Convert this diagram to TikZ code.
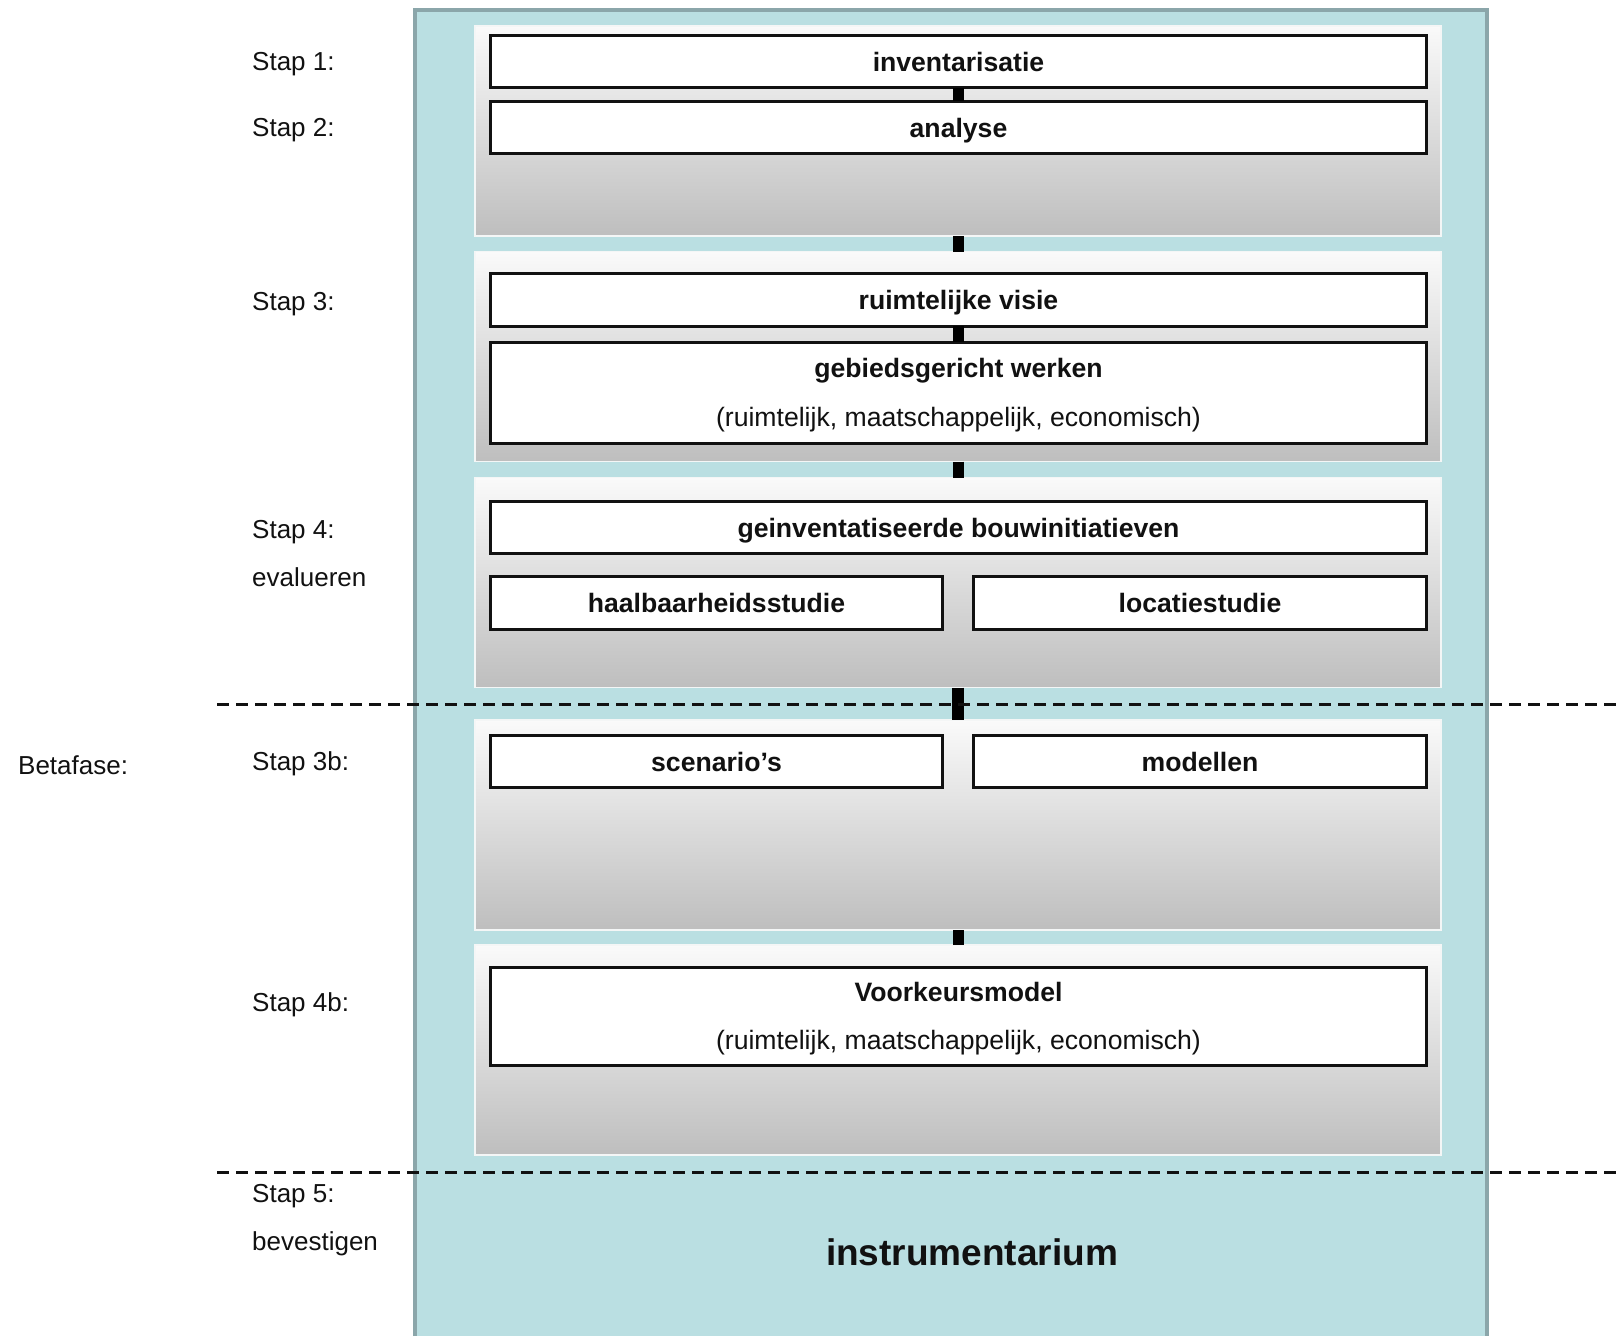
\documentclass[tikz,border=0pt]{standalone}
\usepackage{fontspec}
\setmainfont{Liberation Sans}
\definecolor{tealbg}{HTML}{BADFE2}
\definecolor{rim}{HTML}{8BA6AA}
\definecolor{panelTop}{HTML}{FAFAFA}
\definecolor{panelBot}{HTML}{BEBEBE}
\definecolor{panelEdge}{HTML}{F4F6F6}
\definecolor{ink}{HTML}{111111}
\begin{document}
\begin{tikzpicture}[x=1pt,y=-1pt,
  every node/.style={font=\fontsize{26}{31}\selectfont, text=ink},
  panel/.style={top color=panelTop, bottom color=panelBot, draw=panelEdge,
    line width=1.5pt, minimum width=966pt, minimum height=210pt,
    inner sep=0pt, outer sep=0pt},
  box/.style={draw=ink, fill=white, line width=2.6pt, inner sep=0pt, outer sep=0pt,
    font=\fontsize{26.6}{31}\selectfont\bfseries},
  onebox/.style={box, minimum height=52.5pt, text height=19pt, text depth=0pt},
  wide/.style={onebox, minimum width=936.5pt},
  half/.style={onebox, minimum width=452.5pt},
  tallbox/.style={box, minimum width=936.5pt},
  boxtext/.style={align=center, inner sep=0pt, font=\fontsize{26.6}{31}\selectfont},
  link/.style={draw=black, line width=11pt},
  phase/.style={draw=ink, line width=3pt, dash pattern=on 12pt off 7pt},
  steplabel/.style={anchor=base west, inner sep=0pt}
]
\useasboundingbox (0,0) rectangle (1622,1336);

% outer column
\fill[tealbg] (415,10) rectangle (1487,1336);
\draw[rim, line width=4pt, line join=miter] (415,1336) -- (415,10) -- (1487,10) -- (1487,1336);

% shaded step panels
\node[panel] (p1) at (958,131) {};
\node[panel] (p2) at (958,356.5) {};
\node[panel] (p3) at (958,582.5) {};
\node[panel] (p4) at (958,825) {};
\node[panel] (p5) at (958,1050) {};

% step boxes
\node[wide] (b1) at (958.5,61.5) {inventarisatie};
\node[wide] (b2) at (958.5,127.5) {analyse};
\node[wide] (b3) at (958.5,300) {ruimtelijke visie};
\node[tallbox, minimum height=101.5pt] (b4) at (958.5,393) {};
\node[boxtext] (t4) at ([yshift=-2.5pt]b4.center)
  {\textbf{gebiedsgericht werken}\\[18pt](ruimtelijk, maatschappelijk, economisch)};
\node[wide] (b5) at (958.5,527.5) {geinventatiseerde bouwinitiatieven};
\node[half] (b6) at (716.5,603) {haalbaarheidsstudie};
\node[half] (b7) at (1200,603) {locatiestudie};
\node[half] (b8) at (716.5,761.5) {scenario’s};
\node[half] (b9) at (1200,761.5) {modellen};
\node[tallbox, minimum height=98.5pt] (b10) at (958.5,1016.5) {};
\node[boxtext] (t10) at ([yshift=-2.5pt]b10.center)
  {\textbf{Voorkeursmodel}\\[17pt](ruimtelijk, maatschappelijk, economisch)};

% connectors
\draw[link] (b1.south) -- (b2.north);
\draw[link] (p1.south) -- (p2.north);
\draw[link] (b3.south) -- (b4.north);
\draw[link] (p2.south) -- (p3.north);
\draw[link, line width=12pt] (p3.south) -- (p4.north);
\draw[link] (p4.south) -- (p5.north);

% phase boundaries
\draw[phase] (217,704) -- (1622,704);
\draw[phase] (217,1172) -- (1622,1172);

% result
\node[font=\fontsize{37}{44}\selectfont\bfseries, anchor=base] (res) at (972,1265) {instrumentarium};

% step labels
\node[steplabel] (s1) at (252,70) {Stap 1:};
\node[steplabel] (s2) at (252,136) {Stap 2:};
\node[steplabel] (s3) at (252,310) {Stap 3:};
\node[steplabel] (s4) at (252,538) {Stap 4:};
\node[steplabel] (s4t) at (252,586) {evalueren};
\node[steplabel] (s3b) at (252,770) {Stap 3b:};
\node[steplabel] (s4b) at (252,1011) {Stap 4b:};
\node[steplabel] (s5) at (252,1202) {Stap 5:};
\node[steplabel] (s5t) at (252,1250) {bevestigen};
\node[steplabel] (beta) at (18,774) {Betafase:};
\end{tikzpicture}
\end{document}
